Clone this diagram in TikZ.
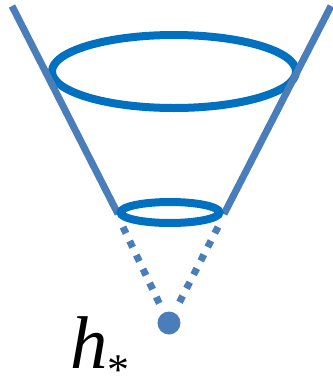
\documentclass[tikz,border=0pt]{standalone}
\usepackage{fontspec}
\setmainfont{Liberation Serif}
\definecolor{conegrey}{HTML}{4A7EBB}
\definecolor{ringblue}{HTML}{0070C0}
\tikzset{
  coneline/.style={draw=conegrey, line width=7bp},
  ring/.style={draw=ringblue, line width=8bp},
  dotline/.style={draw=conegrey, line width=7bp, dash pattern=on 7bp off 8.5bp},
}
\begin{document}
\begin{tikzpicture}[x=1bp, y=-1bp]
  \useasboundingbox (0,0) rectangle (333,382);
  % top ends of the cone
  \coordinate (topl) at (12,6);
  \coordinate (topr) at (331,6);
  \coordinate (botl) at (118,214);
  \coordinate (botr) at (224,214);
  % big ring
  \draw[ring] (174,71.5) ellipse (122 and 36.5);
  % cone sides
  \draw[coneline] (topl) -- (botl);
  \draw[coneline] (topr) -- (botr);
  % small ring
  \draw[ring] (170,212.5) ellipse (49.5 and 10.5);
  % apex point
  \fill[conegrey] (169,323) circle (11.5) coordinate (apex);
  \coordinate (dl) at (123,227);
  \coordinate (dr) at (218,227);
  \draw[dotline] (dl) -- (162,309);
  \draw[dotline] (dr) -- (176,309);
  % label
  \node[anchor=base west, inner sep=0pt, font=\fontsize{75}{80}\selectfont] (hlab) at (70,368)
    {\textit{h}\smash{\raisebox{-16bp}{\fontsize{44}{44}\selectfont *}}};
\end{tikzpicture}
\end{document}
